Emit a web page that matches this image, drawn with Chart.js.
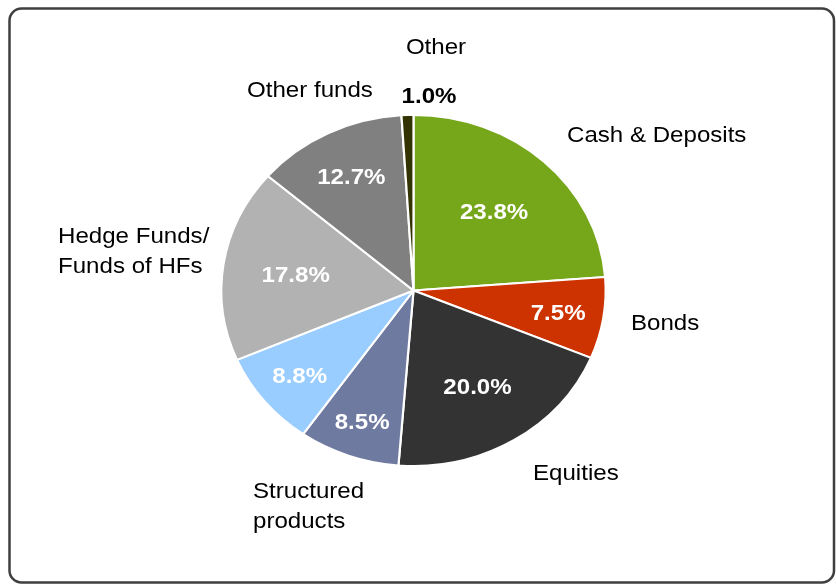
<!DOCTYPE html>
<html>
<head>
<meta charset="utf-8">
<script src="https://cdn.jsdelivr.net/npm/chart.js@4/dist/chart.umd.min.js"></script>
<style>
  html, body { margin: 0; padding: 0; background: #ffffff; }
  canvas { display: block; }
</style>
</head>
<body>
<canvas id="pie" width="836" height="585"></canvas>
<script>
// ---- Data ------------------------------------------------------------------
const categories = [
  "Cash & Deposits", "Bonds", "Equities", "Structured products", "",
  "Hedge Funds/Funds of HFs", "Other funds", "Other"
];
const shares = [23.8, 7.5, 20.0, 8.5, 8.8, 17.8, 12.7, 1.0];
const valueLabels = ["23.8%", "7.5%", "20.0%", "8.5%", "8.8%", "17.8%", "12.7%", "1.0%"];
const sliceColors = [
  "#76a71b", "#cc3300", "#333333", "#6f7aa0", "#99ccff",
  "#b2b2b2", "#808080", "#333300"
];

// ---- Layout / style --------------------------------------------------------
const SX = 1.095;              // the original picture is stretched horizontally
const FONT = "'Liberation Sans', Arial, sans-serif";
// how far out (fraction of radius) each value label sits inside its slice
const insideFrac = [0.617, 0.762, 0.638, 0.79, 0.763, 0.62, 0.727, null];
// outer category labels: left x / baseline, one entry per text line
const outerLabels = [
  { lines: ["Cash & Deposits"], x: 567, y: 142, align: "left" },
  { lines: ["Bonds"], x: 631, y: 330, align: "left" },
  { lines: ["Equities"], x: 533, y: 480, align: "left" },
  { lines: ["Structured", "products"], x: 253, y: 498, align: "left" },
  { lines: ["Hedge Funds/", "Funds of HFs"], x: 58, y: 243, align: "left" },
  { lines: ["Other funds"], x: 247, y: 97, align: "left" },
  { lines: ["Other"], x: 436, y: 54, align: "center" },
];
const otherValuePos = { x: 429, y: 103 };

function stretchedText(ctx, text, x, y, align) {
  ctx.save();
  ctx.translate(x, y);
  ctx.scale(SX, 1);
  ctx.textAlign = align;
  ctx.textBaseline = "alphabetic";
  ctx.fillText(text, 0, 0);
  ctx.restore();
}

// ---- Plugins ---------------------------------------------------------------
const frame = {
  id: "frame",
  beforeDraw(chart) {
    const ctx = chart.ctx;
    const x0 = 9.5, y0 = 8.5, x1 = 834, y1 = 582.5, r = 12;
    ctx.save();
    ctx.strokeStyle = "#3f3f3f";
    ctx.lineWidth = 2.5;
    ctx.beginPath();
    ctx.moveTo(x0 + r, y0);
    ctx.arcTo(x1, y0, x1, y1, r);
    ctx.arcTo(x1, y1, x0, y1, r);
    ctx.arcTo(x0, y1, x0, y0, r);
    ctx.arcTo(x0, y0, x1, y0, r);
    ctx.closePath();
    ctx.stroke();
    ctx.restore();
  },
};

// squash the circle into the same ellipse as the reference
const ellipse = {
  id: "ellipse",
  beforeDatasetsDraw(chart) {
    const arc = chart.getDatasetMeta(0).data[0];
    const ctx = chart.ctx;
    ctx.save();
    ctx.translate(arc.x, 0);
    ctx.scale(SX, 1);
    ctx.translate(-arc.x, 0);
  },
  afterDatasetsDraw(chart) {
    chart.ctx.restore();
  },
};

const labels = {
  id: "labels",
  afterDraw(chart) {
    const ctx = chart.ctx;
    const arcs = chart.getDatasetMeta(0).data;
    ctx.save();
    // values inside the slices
    ctx.font = "bold 22px " + FONT;
    ctx.fillStyle = "#ffffff";
    arcs.forEach((a, i) => {
      if (insideFrac[i] == null) return;
      const mid = (a.startAngle + a.endAngle) / 2;
      const d = a.outerRadius * insideFrac[i];
      const x = a.x + Math.cos(mid) * d * SX;
      const y = a.y + Math.sin(mid) * d + 7.9;
      stretchedText(ctx, valueLabels[i], x, y, "center");
    });
    // the tiny "Other" slice gets its value outside
    ctx.fillStyle = "#000000";
    stretchedText(ctx, valueLabels[7], otherValuePos.x, otherValuePos.y, "center");
    // category names
    ctx.font = "22px " + FONT;
    outerLabels.forEach((l) => {
      l.lines.forEach((t, k) => stretchedText(ctx, t, l.x, l.y + k * 30, l.align));
    });
    ctx.restore();
  },
};

// ---- Chart -----------------------------------------------------------------
new Chart(document.getElementById("pie"), {
  type: "pie",
  data: {
    labels: categories,
    datasets: [{
      data: shares,
      backgroundColor: sliceColors,
      borderColor: "#ffffff",
      borderWidth: 2,
    }],
  },
  options: {
    responsive: false,
    devicePixelRatio: 1,
    animation: false,
    layout: { padding: { top: 114, bottom: 118, left: 237, right: 246 } },
    plugins: {
      legend: { display: false },
      tooltip: { enabled: false },
    },
  },
  plugins: [frame, ellipse, labels],
});
</script>
</body>
</html>
